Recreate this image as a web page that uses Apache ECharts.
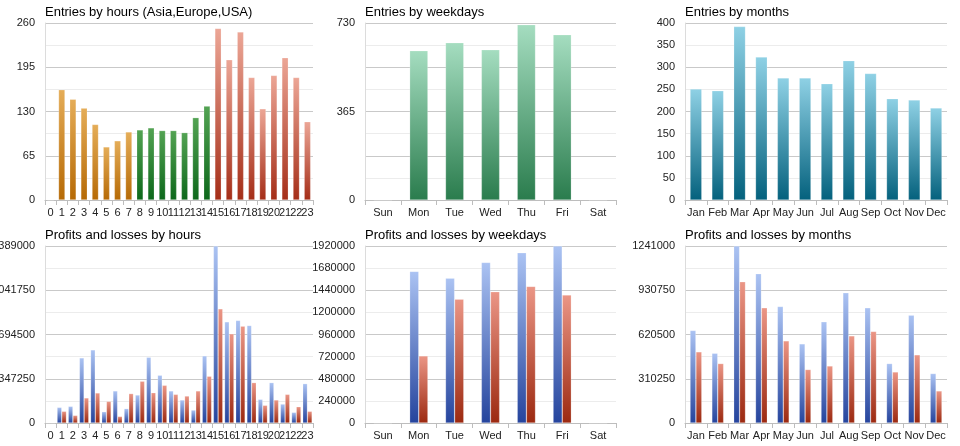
<!DOCTYPE html>
<html>
<head>
<meta charset="utf-8">
<script src="https://cdn.jsdelivr.net/npm/echarts@6/dist/echarts.min.js"></script>
<style>
html,body{margin:0;padding:0;background:#fff;}
#c{width:960px;height:446px;}
</style>
</head>
<body>
<div id="c"></div>
<script>
// ---- data ----
const hours = ['0','1','2','3','4','5','6','7','8','9','10','11','12','13','14','15','16','17','18','19','20','21','22','23'];
const weekdays = ['Sun','Mon','Tue','Wed','Thu','Fri','Sat'];
const months = ['Jan','Feb','Mar','Apr','May','Jun','Jul','Aug','Sep','Oct','Nov','Dec'];

const entriesByHour = [0,162,148,135,111,78,87,100,103,106,102,102,99,121,138,252,206,247,180,134,183,209,180,115];
const entriesByWeekday = [0,616,649,620,723,682,0];
const entriesByMonth = [251,247,392,323,276,276,263,315,286,229,226,208];

const profitsByHour = [0,123000,131000,511000,574000,89000,252000,113000,220000,516000,375000,252000,181000,102000,527000,1389000,794000,805000,765000,186000,317000,149000,84000,309000];
const lossesByHour  = [0,92000,60000,197000,236000,170000,52000,231000,328000,238000,296000,225000,212000,252000,367000,896000,700000,760000,317000,139000,181000,225000,128000,92000];

const profitsByWeekday = [0,1645000,1572000,1742000,1847000,1920000,0];
const lossesByWeekday  = [0,728000,1344000,1424000,1482000,1388000,0];

const profitsByMonth = [649000,489000,1241000,1047000,817000,555000,710000,913000,808000,417000,756000,347000];
const lossesByMonth  = [499000,417000,990000,808000,576000,375000,400000,611000,642000,358000,478000,225000];

const ticksHourEntries = [0,65,130,195,260];
const ticksWeekdayEntries = [0,365,730];
const ticksMonthEntries = [0,50,100,150,200,250,300,350,400];
const ticksHourPL = [0,347250,694500,1041750,1389000];
const ticksWeekdayPL = [0,240000,480000,720000,960000,1200000,1440000,1680000,1920000];
const ticksMonthPL = [0,310250,620500,930750,1241000];

const titles = ['Entries by hours (Asia,Europe,USA)','Entries by weekdays','Entries by months',
                'Profits and losses by hours','Profits and losses by weekdays','Profits and losses by months'];

// ---- styling ----
const FONT = '"Liberation Sans", Arial, sans-serif';
function grad(top, bottom){
  return {type:'linear',x:0,y:0,x2:0,y2:1,colorStops:[{offset:0,color:top},{offset:1,color:bottom}]};
}
const G = {
  orange: grad('#e5ad58','#b66a05'),
  green:  grad('#53a353','#0d681b'),
  red:    grad('#eca696','#a52e18'),
  week:   grad('#a5ddc0','#2a7c4d'),
  month:  grad('#8fd1e5','#04617d'),
  blue:   grad('#abc3f3','#25449d'),
  loss:   grad('#eb9686','#9c2910')
};

const cols = [45, 365, 685];
const widths = [268, 251, 262];
const rows = [23, 246];
const H = 177;

const grids = [], xAxes = [], yAxes = [], titleOpts = [];
const cats = [hours, weekdays, months, hours, weekdays, months];
const ticks = [ticksHourEntries, ticksWeekdayEntries, ticksMonthEntries, ticksHourPL, ticksWeekdayPL, ticksMonthPL];

for (let i = 0; i < 6; i++) {
  const r = Math.floor(i / 3), c = i % 3;
  grids.push({left: cols[c], top: rows[r], width: widths[c], height: H, containLabel: false, outerBoundsMode: 'none'});
  titleOpts.push({text: titles[i], left: cols[c], top: rows[r] - 17, padding: 0,
    textStyle: {fontFamily: FONT, fontSize: 13, fontWeight: 'normal', color: '#000'}});
  xAxes.push({type: 'category', gridIndex: i, data: cats[i],
    axisLine: {lineStyle: {color: '#bdbdbd'}},
    axisTick: {show: true, length: 5, lineStyle: {color: '#bdbdbd'}},
    axisLabel: {interval: 0, hideOverlap: false, fontFamily: FONT, fontSize: 11, color: '#222', margin: 7}});
  const tk = ticks[i];
  const mx = tk[tk.length - 1];
  yAxes.push({type: 'value', gridIndex: i, min: 0, max: mx, interval: mx / 8,
    axisLine: {show: true, lineStyle: {color: '#dcdcdc'}},
    axisTick: {show: false},
    splitLine: {show: true, lineStyle: {color: ['#c9c9c9', '#ececec'], width: 1}},
    axisLabel: {fontFamily: FONT, fontSize: 11, color: '#222', margin: 10, hideOverlap: false,
      formatter: function (v) {
        for (const t of tk) { if (Math.abs(t - v) < mx * 1e-6) return String(t); }
        return '';
      }}});
}

function hourColor(idx){ return idx < 8 ? G.orange : (idx < 15 ? G.green : G.red); }

const border = {borderColor: 'rgba(255,255,255,0.35)', borderWidth: 0.6};

const series = [
  {type: 'bar', xAxisIndex: 0, yAxisIndex: 0, barCategoryGap: '42%',
   data: entriesByHour.map((v, i) => ({value: v, itemStyle: {color: hourColor(i)}})),
   itemStyle: border},
  {type: 'bar', xAxisIndex: 1, yAxisIndex: 1, barCategoryGap: '49%',
   data: entriesByWeekday, itemStyle: Object.assign({color: G.week}, border)},
  {type: 'bar', xAxisIndex: 2, yAxisIndex: 2, barCategoryGap: '46%',
   data: entriesByMonth, itemStyle: Object.assign({color: G.month}, border)},
  {type: 'bar', xAxisIndex: 3, yAxisIndex: 3, barCategoryGap: '16%', barGap: '0%',
   data: profitsByHour, itemStyle: Object.assign({color: G.blue}, border)},
  {type: 'bar', xAxisIndex: 3, yAxisIndex: 3, barCategoryGap: '16%', barGap: '0%',
   data: lossesByHour, itemStyle: Object.assign({color: G.loss}, border)},
  {type: 'bar', xAxisIndex: 4, yAxisIndex: 4, barCategoryGap: '49%', barGap: '0%',
   data: profitsByWeekday, itemStyle: Object.assign({color: G.blue}, border)},
  {type: 'bar', xAxisIndex: 4, yAxisIndex: 4, barCategoryGap: '49%', barGap: '0%',
   data: lossesByWeekday, itemStyle: Object.assign({color: G.loss}, border)},
  {type: 'bar', xAxisIndex: 5, yAxisIndex: 5, barCategoryGap: '46%', barGap: '0%',
   data: profitsByMonth, itemStyle: Object.assign({color: G.blue}, border)},
  {type: 'bar', xAxisIndex: 5, yAxisIndex: 5, barCategoryGap: '46%', barGap: '0%',
   data: lossesByMonth, itemStyle: Object.assign({color: G.loss}, border)}
];

const chart = echarts.init(document.getElementById('c'), null, {renderer: 'canvas'});
chart.setOption({
  animation: false,
  backgroundColor: '#fff',
  title: titleOpts,
  grid: grids,
  xAxis: xAxes,
  yAxis: yAxes,
  series: series
});
</script>
</body>
</html>
